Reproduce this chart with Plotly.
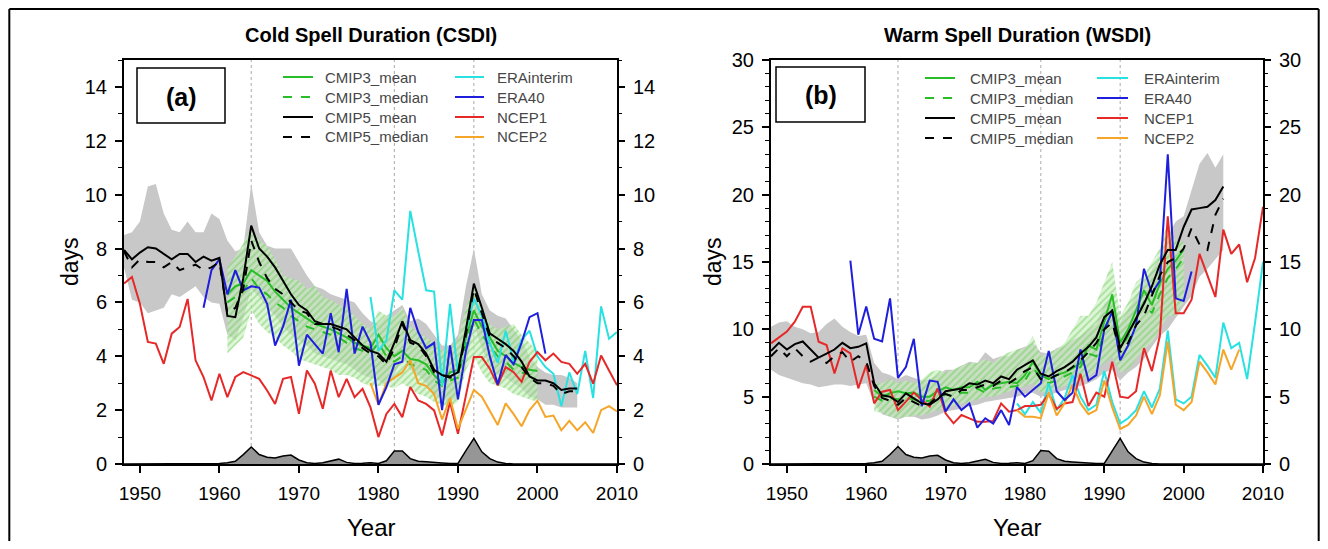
import plotly.graph_objects as go

# page is 1328x549; the browser body keeps its default 8px margin,
# so the figure itself is sized to fit inside it exactly.
PAGE_W, PAGE_H = 1328, 549
OX, OY = 8, 8
W, H = PAGE_W - 2 * OX, PAGE_H - 2 * OY

# ---------------- data ----------------
years_cmip5 = list(range(1948, 2006))
years_cmip3 = list(range(1961, 2001))
years_era40 = list(range(1958, 2002))
years_erai = list(range(1979, 2011))
years_ncep1 = list(range(1948, 2011))
years_ncep2_a = list(range(1979, 2011))
years_ncep2_b = list(range(1979, 2008))
years_aer = list(range(1948, 2011))
eruption_years = [1964, 1982, 1992]
decade_ticks = [1950, 1960, 1970, 1980, 1990, 2000, 2010]

# ---- panel (a) CSDI ----
csdi_cmip5_mean = [7.95, 7.6, 7.85, 8.05, 8.0, 7.8, 7.6, 7.8, 7.8, 7.5, 7.7, 7.55, 7.65,
                   5.5, 5.45, 6.9, 8.85, 8.0, 7.7, 7.3, 6.8, 6.3, 5.9,
                   5.7, 5.3, 5.2, 5.2, 5.1, 5.0, 4.7, 4.4, 4.2, 4.1,
                   3.8, 4.5, 5.3, 4.6, 4.45, 4.1, 3.5, 3.3, 3.25, 3.4,
                   5.0, 6.7, 5.8, 4.85, 4.65, 4.45, 4.2, 3.8, 3.25, 3.1,
                   3.1, 3.0, 2.75, 2.8, 2.8]
csdi_cmip5_median = [7.9, 7.3, 7.6, 7.5, 7.5, 7.3, 7.5, 7.2, 7.3, 7.4, 7.2, 7.3, 7.5,
                     5.6, 5.8, 6.5, 8.3, 7.5, 6.9, 6.5, 6.3, 6.0, 5.7,
                     5.6, 5.2, 5.2, 5.1, 5.0, 4.8, 4.6, 4.3, 4.1, 4.0,
                     3.7, 4.3, 5.2, 4.5, 4.4, 4.0, 3.4, 3.3, 3.2, 3.3,
                     4.8, 6.5, 5.6, 4.7, 4.5, 4.3, 4.0, 3.6, 3.2, 3.0,
                     3.0, 2.9, 2.6, 2.7, 2.7]
csdi_cmip5_hi = [8.5, 8.6, 9.0, 10.3, 10.4, 9.3, 8.7, 8.6, 9.0, 8.6, 8.6, 9.3, 9.1,
                 8.3, 7.9, 8.0, 10.4, 8.6, 8.1, 8.0, 8.0, 8.0, 7.5,
                 7.0, 6.6, 6.5, 6.3, 6.2, 6.1, 6.0, 5.6, 5.3, 5.2,
                 5.5, 5.7, 5.9, 5.3, 5.4, 5.2, 4.8, 4.4, 4.4, 4.8,
                 6.6, 8.0, 6.3, 5.7, 5.5, 5.4, 5.0, 4.6, 4.0, 3.6,
                 3.4, 3.3, 3.3, 3.2, 3.0]
csdi_cmip5_lo = [7.3, 6.1, 6.0, 5.6, 5.7, 5.8, 6.3, 6.2, 6.4, 6.6, 6.2, 6.0, 5.95,
                 4.8, 4.6, 5.4, 6.5, 6.2, 5.8, 5.5, 5.1, 4.8, 4.6,
                 4.4, 4.1, 4.0, 3.9, 3.8, 3.7, 3.5, 3.3, 3.2, 3.1,
                 2.9, 3.3, 4.0, 3.5, 3.3, 3.0, 2.6, 2.4, 2.3, 2.5,
                 3.6, 5.2, 4.3, 3.6, 3.3, 3.2, 3.0, 2.8, 2.5, 2.4,
                 2.2, 2.2, 2.1, 2.1, 2.1]
csdi_cmip3_mean = [6.3, 6.6, 6.7, 7.2, 7.0, 6.8, 6.4, 6.1, 5.8,
                   5.6, 5.4, 5.2, 5.1, 5.0, 4.85, 4.7, 4.5, 4.4, 4.3,
                   4.8, 4.3, 4.0, 4.2, 3.9, 3.85, 3.7, 3.3, 3.0, 3.4,
                   3.5, 4.7, 5.7, 5.1, 4.7, 4.2, 4.0, 3.75, 3.6, 3.5,
                   3.45]
csdi_cmip3_median = [6.0, 6.2, 6.4, 6.9, 6.5, 6.3, 6.0, 5.8, 5.5,
                     5.3, 5.1, 5.0, 4.9, 4.8, 4.7, 4.5, 4.3, 4.2, 4.1,
                     4.5, 4.0, 3.8, 4.0, 3.7, 3.6, 3.5, 3.1, 2.9, 3.1,
                     3.2, 4.5, 5.4, 4.8, 4.4, 4.0, 3.8, 3.5, 3.4, 3.3,
                     3.2]
csdi_cmip3_hi = [7.3, 7.7, 8.2, 8.8, 8.3, 8.1, 7.6, 7.0, 6.9,
                 6.8, 6.5, 6.6, 6.2, 6.1, 5.9, 5.8, 5.5, 5.2, 5.0,
                 5.7, 5.5, 5.5, 5.8, 5.1, 4.9, 4.7, 4.5, 4.2, 4.3,
                 4.6, 5.8, 6.6, 5.8, 5.2, 5.0, 5.1, 5.2, 4.8, 4.5,
                 4.2]
csdi_cmip3_lo = [4.1, 4.4, 4.7, 5.7, 5.2, 4.9, 4.7, 4.4, 4.2,
                 3.9, 3.8, 3.7, 3.6, 3.5, 3.3, 3.3, 3.2, 3.0, 2.9,
                 2.9, 2.9, 2.8, 3.0, 2.8, 2.6, 2.5, 2.3, 2.2, 2.1,
                 2.3, 3.5, 4.0, 3.4, 3.0, 2.9, 2.8, 2.6, 2.5, 2.4,
                 2.3]
csdi_era40 = [5.8, 7.2, 7.6, 6.3, 7.2, 6.45, 6.6, 6.55, 5.95, 4.4,
              5.1, 6.1, 3.65, 4.8, 4.45, 4.1, 5.6, 4.15, 6.5, 4.1,
              5.1, 4.5, 2.2, 2.85, 3.7, 3.8, 5.8, 4.9, 4.3, 4.5,
              2.0, 4.4, 2.4, 4.2, 5.35, 5.35, 4.0, 2.95, 4.05, 3.7,
              4.5, 5.45, 5.6, 4.1]
csdi_erai = [6.2, 4.2, 4.6, 6.45, 6.1, 9.4, 7.9, 6.45, 6.4, 2.9,
             5.95, 3.35, 4.9, 6.15, 5.5, 4.5, 3.75, 4.95, 3.8, 4.6,
             4.95, 4.0, 3.6, 3.35, 2.15, 3.4, 2.6, 4.2, 2.45, 5.85,
             4.65, 4.9]
csdi_ncep1 = [6.7, 6.94, 5.95, 4.53, 4.47, 3.72, 4.84, 5.09, 6.13, 3.85,
              3.23, 2.36, 3.35, 2.48, 3.23, 3.41, 3.29, 3.16, 2.73, 2.23,
              3.16, 3.23, 1.86, 3.47, 2.98, 2.05, 3.47, 2.48, 3.16, 2.48,
              2.79, 2.1, 1.0, 1.86, 2.23, 1.74, 2.86, 2.36, 2.23, 1.99,
              1.06, 2.3, 1.12, 2.48, 3.97, 3.97, 3.54, 2.92, 3.6, 3.41,
              3.05, 3.79, 4.16, 3.85, 4.1, 3.79, 3.72, 3.35, 3.72, 2.98,
              4.03, 3.47, 2.92]
csdi_ncep2 = [3.0, 2.2, 3.0, 3.2, 3.4, 3.85, 3.0, 2.9, 2.6, 1.65,
              2.45, 1.3, 2.0, 2.75, 2.5, 2.0, 1.45, 2.25, 1.85, 1.4,
              2.0, 2.35, 1.75, 1.8, 1.25, 1.6, 1.25, 1.55, 1.15, 2.0,
              2.15, 1.95]
csdi_aerosol = [0, 0, 0, 0, 0, 0, 0, 0, 0, 0, 0, 0,
                0.02, 0.05, 0.1, 0.35, 0.63, 0.35, 0.25, 0.22, 0.3, 0.33,
                0.15, 0.05, 0.02, 0.05, 0.12, 0.18, 0.06, 0.02, 0.03, 0.05,
                0.02, 0.12, 0.48, 0.48, 0.2, 0.1, 0.08, 0.05, 0.04, 0.02,
                0.02, 0.5, 0.95, 0.45, 0.2, 0.07, 0.02,
                0, 0, 0, 0, 0, 0, 0, 0, 0, 0, 0, 0, 0, 0]

# ---- panel (b) WSDI ----
wsdi_cmip5_mean = [8.4, 9.0, 8.5, 8.9, 9.1, 8.5, 7.9, 8.2, 8.5, 9.0,
                   8.6, 8.7, 8.96, 6.0, 5.1, 5.0, 4.6, 5.25, 4.9, 4.5,
                   4.4, 4.8, 5.4, 5.5, 5.6, 6.0, 5.9, 6.2, 6.0, 6.5,
                   6.3, 7.0, 7.35, 7.7, 6.7, 6.5, 6.9, 7.2, 7.6, 8.2,
                   8.7, 9.4, 10.9, 11.4, 8.6, 9.7, 10.7, 11.9, 13.2, 14.8,
                   15.9, 15.9, 17.6, 18.9, 19.0, 19.1, 19.6, 20.6]
wsdi_cmip5_median = [8.0, 8.6, 8.0, 8.6, 8.0, 7.6, 7.9, 7.5, 8.0, 8.3,
                     7.6, 8.0, 7.6, 5.8, 4.9, 4.7, 4.4, 4.9, 4.6, 4.3,
                     4.5, 5.0, 5.2, 5.0, 5.5, 5.5, 5.7, 5.9, 5.8, 6.2,
                     6.0, 6.4, 6.9, 7.2, 6.3, 6.3, 6.6, 6.8, 7.2, 7.7,
                     8.3, 9.0, 10.0, 10.5, 8.3, 9.0, 10.3, 11.0, 12.5, 14.0,
                     15.0, 15.3, 16.0, 17.5, 16.3, 15.9, 18.5, 19.7]
wsdi_cmip5_hi = [10.2, 10.5, 10.6, 10.2, 10.0, 9.7, 9.8, 10.4, 10.8, 10.2,
                 9.8, 9.5, 9.6, 7.5, 6.8, 6.6, 6.3, 6.6, 6.4, 6.2,
                 6.3, 6.6, 7.0, 7.0, 7.3, 7.6, 7.5, 8.3, 7.8, 8.0,
                 8.0, 8.5, 8.7, 9.0, 8.3, 8.2, 8.6, 8.8, 9.2, 9.5,
                 10.0, 10.4, 11.9, 12.5, 10.5, 11.5, 12.5, 13.5, 14.5, 15.4,
                 17.0, 18.0, 18.4, 20.3, 22.3, 23.1, 22.0, 23.0]
wsdi_cmip5_lo = [7.0, 6.6, 6.4, 6.2, 6.0, 5.9, 5.7, 5.8, 5.9, 5.9,
                 5.8, 5.9, 6.0, 4.5, 3.7, 3.5, 3.3, 3.5, 3.5, 3.3,
                 3.4, 3.6, 3.9, 4.0, 4.1, 4.3, 4.4, 4.6, 4.7, 4.8,
                 4.9, 5.0, 5.2, 5.3, 5.0, 5.1, 5.3, 5.5, 5.6, 5.8,
                 6.0, 6.3, 6.8, 7.0, 6.2, 6.8, 7.2, 7.8, 8.7, 9.5,
                 10.0, 10.8, 11.7, 12.5, 13.9, 14.5, 15.2, 15.9]
wsdi_cmip3_mean = [5.5, 5.0, 5.25, 5.4, 5.25, 5.3, 5.0, 5.0, 5.4,
                   5.7, 5.5, 5.7, 5.7, 6.1, 5.5, 5.9, 6.0, 6.1, 6.0,
                   6.6, 7.6, 6.6, 6.3, 6.6, 6.8, 7.1, 7.5, 8.8, 8.5,
                   10.5, 12.6, 9.0, 10.0, 11.4, 12.9, 11.8, 13.4, 14.5, 15.1,
                   15.9]
wsdi_cmip3_median = [5.0, 4.7, 4.9, 4.8, 4.9, 4.8, 4.6, 4.7, 5.0,
                     5.2, 5.0, 5.3, 5.3, 5.6, 5.3, 5.6, 5.7, 5.7, 5.8,
                     6.2, 7.2, 6.3, 6.0, 6.2, 6.5, 6.8, 7.2, 8.2, 8.0,
                     9.8, 11.5, 8.5, 9.5, 10.8, 12.0, 11.2, 12.6, 13.8, 14.5,
                     15.3]
wsdi_cmip3_hi = [6.0, 6.0, 6.3, 6.0, 6.2, 6.0, 6.3, 6.8, 7.0,
                 6.8, 7.0, 7.3, 7.5, 7.5, 7.8, 7.5, 8.0, 8.3, 8.5,
                 8.6, 9.5, 8.0, 8.3, 8.5, 9.0, 10.0, 11.0, 11.0, 12.0,
                 13.5, 15.0, 11.0, 12.0, 13.5, 14.0, 15.0, 16.0, 18.0, 16.5,
                 16.5]
wsdi_cmip3_lo = [3.9, 3.8, 3.5, 3.4, 3.5, 3.6, 3.6, 3.8, 4.0,
                 4.2, 4.3, 4.5, 4.6, 4.8, 5.0, 5.0, 5.2, 5.4, 5.6,
                 5.8, 6.0, 5.3, 5.4, 5.6, 5.8, 6.0, 6.2, 6.5, 7.0,
                 7.5, 8.0, 6.8, 7.0, 7.8, 8.5, 9.0, 10.0, 11.0, 11.0,
                 12.0]
wsdi_era40 = [15.1, 9.6, 11.7, 9.3, 9.1, 12.3, 6.4, 7.2, 9.3, 4.3,
              6.2, 6.1, 3.9, 4.8, 4.0, 4.5, 2.7, 3.4, 3.0, 4.0,
              2.9, 5.7, 5.0, 5.5, 6.0, 8.4, 5.4, 4.75, 5.3, 8.5,
              6.2, 6.6, 10.0, 11.3, 7.7, 8.8, 10.3, 14.5, 12.7, 13.6,
              23.0, 12.3, 12.1, 14.3]
wsdi_erai = [4.5, 3.7, 4.6, 3.8, 6.0, 4.0, 4.9, 6.6, 5.0, 4.0,
             4.4, 6.9, 4.6, 3.0, 3.4, 4.0, 5.4, 4.2, 5.6, 9.9,
             4.8, 4.5, 5.0, 8.1, 7.3, 6.4, 10.5, 8.6, 9.0, 6.3,
             10.5, 15.0]
wsdi_ncep1 = [8.96, 9.4, 9.83, 10.57, 11.68, 11.68, 9.08, 8.84, 6.73, 8.59,
              8.22, 5.62, 7.35, 4.5, 5.37, 5.5, 4.0, 4.63, 5.3, 4.75,
              4.26, 5.62, 3.76, 3.02, 3.64, 3.39, 3.14, 3.14, 3.2, 4.5,
              3.89, 4.0, 4.3, 4.3, 4.4, 5.2, 4.1, 4.5, 4.6, 6.7,
              4.3, 5.3, 5.0, 7.6, 5.0, 4.9, 5.4, 8.6, 6.9, 9.5,
              18.4, 11.2, 11.2, 12.2, 15.6, 14.0, 12.4, 17.4, 15.6, 16.3,
              13.5, 15.3, 19.1]
wsdi_ncep2 = [4.0, 3.5, 3.5, 3.4, 5.3, 3.6, 4.5, 5.9, 4.5, 3.7,
              4.0, 6.2, 4.2, 2.6, 2.9, 3.6, 5.0, 3.7, 5.1, 9.1,
              4.4, 4.0, 4.6, 7.6, 6.8, 5.9, 8.5, 7.0, 8.5]
wsdi_aerosol = [0, 0, 0, 0, 0, 0, 0, 0, 0, 0, 0, 0,
                0.04, 0.1, 0.2, 0.7, 1.3, 0.7, 0.5, 0.45, 0.6, 0.65,
                0.3, 0.1, 0.04, 0.1, 0.24, 0.35, 0.12, 0.04, 0.06, 0.1,
                0.04, 0.25, 1.0, 0.95, 0.4, 0.2, 0.15, 0.1, 0.08, 0.04,
                0.04, 1.0, 1.9, 0.9, 0.4, 0.14, 0.04,
                0, 0, 0, 0, 0, 0, 0, 0, 0, 0, 0, 0, 0, 0]

# ---------------- styles ----------------
FONT = "Liberation Sans, Arial, Helvetica, sans-serif"
C_GREEN = "rgb(40,190,40)"
C_CYAN = "rgb(40,225,225)"
C_BLUE = "rgb(30,30,220)"
C_RED = "rgb(230,40,40)"
C_ORANGE = "rgb(245,165,40)"
C_BAND = "rgb(200,200,200)"

legend_items = [
    ("CMIP3_mean", C_GREEN, "solid"),
    ("CMIP3_median", C_GREEN, "dash"),
    ("CMIP5_mean", "black", "solid"),
    ("CMIP5_median", "black", "dash"),
    ("ERAinterim", C_CYAN, "solid"),
    ("ERA40", C_BLUE, "solid"),
    ("NCEP1", C_RED, "solid"),
    ("NCEP2", C_ORANGE, "solid"),
]


def px(x):
    """page pixel x -> paper fraction"""
    return (x - OX) / W


def py(y):
    """page pixel y -> paper fraction"""
    return 1 - (y - OY) / H


fig = go.Figure()


def band(xs, lo, hi, xa, ya, color, pattern=None):
    kw = dict(x=xs + xs[::-1], y=hi + lo[::-1], fill="toself", mode="lines",
              line=dict(width=0, color=color), fillcolor=color,
              xaxis=xa, yaxis=ya, hoverinfo="skip", showlegend=False)
    if pattern:
        kw["fillpattern"] = pattern
    fig.add_trace(go.Scatter(**kw))


def line(xs, ys, xa, ya, color, dash="solid", width=2):
    fig.add_trace(go.Scatter(x=xs, y=ys, mode="lines", xaxis=xa, yaxis=ya,
                             line=dict(color=color, width=width, dash=dash),
                             showlegend=False))


green_pattern = dict(shape="/", fgcolor="rgba(95,200,75,0.85)",
                     bgcolor="rgba(200,238,190,0.6)", size=5, solidity=0.4)

panels = [
    dict(xa="x", ya="y", ya_top="y3",
         cm5=(csdi_cmip5_mean, csdi_cmip5_median, csdi_cmip5_lo, csdi_cmip5_hi),
         cm3=(csdi_cmip3_mean, csdi_cmip3_median, csdi_cmip3_lo, csdi_cmip3_hi),
         era40=csdi_era40, erai=csdi_erai, ncep1=csdi_ncep1, ncep2=csdi_ncep2,
         ncep2_years=years_ncep2_a, aer=csdi_aerosol),
    dict(xa="x2", ya="y2", ya_top="y4",
         cm5=(wsdi_cmip5_mean, wsdi_cmip5_median, wsdi_cmip5_lo, wsdi_cmip5_hi),
         cm3=(wsdi_cmip3_mean, wsdi_cmip3_median, wsdi_cmip3_lo, wsdi_cmip3_hi),
         era40=wsdi_era40, erai=wsdi_erai, ncep1=wsdi_ncep1, ncep2=wsdi_ncep2,
         ncep2_years=years_ncep2_b, aer=wsdi_aerosol),
]

for p in panels:
    xa, ya, yt = p["xa"], p["ya"], p["ya_top"]
    m5, md5, lo5, hi5 = p["cm5"]
    m3, md3, lo3, hi3 = p["cm3"]
    band(years_cmip5, lo5, hi5, xa, ya, C_BAND)
    band(years_cmip3, lo3, hi3, xa, ya, "rgba(200,238,190,0.6)", green_pattern)
    fig.add_trace(go.Scatter(x=years_aer, y=p["aer"], mode="lines", fill="tozeroy",
                             fillcolor="rgb(150,150,150)", line=dict(color="black", width=1.5),
                             xaxis=xa, yaxis=ya, showlegend=False))
    line(years_cmip3, m3, xa, ya, C_GREEN)
    line(years_cmip3, md3, xa, ya, C_GREEN, "dash")
    line(years_erai, p["erai"], xa, ya, C_CYAN)
    line(years_ncep1, p["ncep1"], xa, ya, C_RED)
    line(p["ncep2_years"], p["ncep2"], xa, ya, C_ORANGE)
    line(years_era40, p["era40"], xa, ya, C_BLUE)
    # CMIP5 lines sit on the mirrored right-hand axis (same range), drawn on top
    line(years_cmip5, m5, xa, yt, "black")
    line(years_cmip5, md5, xa, yt, "black", "dash")

# ---------------- axes ----------------
ydom = [py(464), py(60)]
XTICKFONT = dict(family=FONT, size=19, color="black")
YTICKFONT = dict(family=FONT, size=20, color="black")
xcommon = dict(range=[1948, 2010], tickvals=decade_ticks, ticks="outside", ticklen=7,
               tickwidth=1.5, tickcolor="black", showline=True, linewidth=2,
               linecolor="black", mirror=True, showgrid=False, zeroline=False,
               tickfont=XTICKFONT, ticklabelstandoff=4, automargin=False)
ycommon = dict(ticks="outside", ticklen=7, tickwidth=1.5, tickcolor="black",
               showline=True, linewidth=2, linecolor="black", mirror=True,
               showgrid=False, zeroline=False, tickfont=YTICKFONT, ticklabelstandoff=4,
               domain=ydom, automargin=False)
yright = dict(ticks="outside", ticklen=7, tickwidth=1.5, tickcolor="black",
              showline=False, showgrid=False, zeroline=False, side="right",
              tickfont=YTICKFONT, ticklabelstandoff=4, automargin=False)
minor = dict(dtick=1, ticks="outside", ticklen=4, tickcolor="black", tickwidth=1.2)

fig.update_layout(
    width=W, height=H, margin=dict(l=0, r=0, t=0, b=0, pad=0, autoexpand=False),
    paper_bgcolor="white", plot_bgcolor="white", showlegend=False,
    xaxis=dict(domain=[px(124), px(617)], anchor="y", **xcommon),
    xaxis2=dict(domain=[px(771), px(1263)], anchor="y2", **xcommon),
    yaxis=dict(anchor="x", range=[0, 15], dtick=2, tick0=0, minor=minor, **ycommon),
    yaxis2=dict(anchor="x2", range=[0, 30], dtick=5, tick0=0, minor=minor, **ycommon),
    yaxis3=dict(overlaying="y", anchor="x", range=[0, 15], dtick=2, tick0=0, minor=minor, **yright),
    yaxis4=dict(overlaying="y2", anchor="x2", range=[0, 30], dtick=5, tick0=0, minor=minor, **yright),
)

shapes = []
annotations = []

for xa in ["x", "x2"]:
    for yr in eruption_years:
        shapes.append(dict(type="line", xref=xa, yref=("y domain" if xa == "x" else "y2 domain"),
                           x0=yr, x1=yr, y0=0, y1=1,
                           line=dict(color="rgb(170,170,170)", width=1, dash="dot"), layer="below"))

panel_geo = [
    dict(title="Cold Spell Duration (CSDI)", cx=371, label="(a)", box=(137, 68, 225, 123),
         leg_x=(283, 313, 323, 455, 484, 495), leg_y=77, ylab_x=70),
    dict(title="Warm Spell Duration (WSDI)", cx=1017, label="(b)", box=(776, 67, 865, 122),
         leg_x=(925, 955, 968, 1097, 1128, 1142), leg_y=78, ylab_x=713),
]
for g in panel_geo:
    annotations.append(dict(text="<b>%s</b>" % g["title"], x=px(g["cx"]), y=py(35),
                            xref="paper", yref="paper", showarrow=False,
                            font=dict(family=FONT, size=20, color="black"),
                            xanchor="center", yanchor="middle"))
    x0, y0, x1, y1 = g["box"]
    shapes.append(dict(type="rect", xref="paper", yref="paper", x0=px(x0), x1=px(x1),
                       y0=py(y1), y1=py(y0), line=dict(color="black", width=1.5)))
    annotations.append(dict(text="<b>%s</b>" % g["label"], x=px((x0 + x1) / 2), y=py((y0 + y1) / 2 + 1),
                            xref="paper", yref="paper", showarrow=False,
                            font=dict(family=FONT, size=25, color="black"),
                            xanchor="center", yanchor="middle"))
    annotations.append(dict(text="days", x=px(g["ylab_x"]), y=py(262), xref="paper", yref="paper",
                            showarrow=False, textangle=-90,
                            font=dict(family=FONT, size=23, color="black"),
                            xanchor="center", yanchor="middle"))
    annotations.append(dict(text="Year", x=px(g["cx"]), y=py(527), xref="paper", yref="paper",
                            showarrow=False, font=dict(family=FONT, size=24, color="black"),
                            xanchor="center", yanchor="middle"))
    a0, a1, at, b0, b1, bt = g["leg_x"]
    for i, (name, col, dash) in enumerate(legend_items):
        col_i, row = divmod(i, 4)
        yy = g["leg_y"] + row * 20
        lx0, lx1, tx = (a0, a1, at) if col_i == 0 else (b0, b1, bt)
        shapes.append(dict(type="line", xref="paper", yref="paper", x0=px(lx0), x1=px(lx1),
                           y0=py(yy), y1=py(yy), line=dict(color=col, width=2, dash=dash)))
        annotations.append(dict(text=name, x=px(tx), y=py(yy), xref="paper", yref="paper",
                                showarrow=False, xanchor="left", yanchor="middle",
                                font=dict(family=FONT, size=15, color="rgb(70,70,70)")))

# outer frame of the figure (as close to the page edge as the body margin allows)
frame = dict(color="black", width=2)
shapes.append(dict(type="line", xref="paper", yref="paper", x0=0.001, x1=0.001, y0=0, y1=0.998, line=frame))
shapes.append(dict(type="line", xref="paper", yref="paper", x0=0.001, x1=0.999, y0=0.998, y1=0.998, line=frame))
shapes.append(dict(type="line", xref="paper", yref="paper", x0=0.999, x1=0.999, y0=0, y1=0.998, line=frame))

fig.update_layout(shapes=shapes, annotations=annotations)
fig.write_html("out.html", config={"displayModeBar": False})
